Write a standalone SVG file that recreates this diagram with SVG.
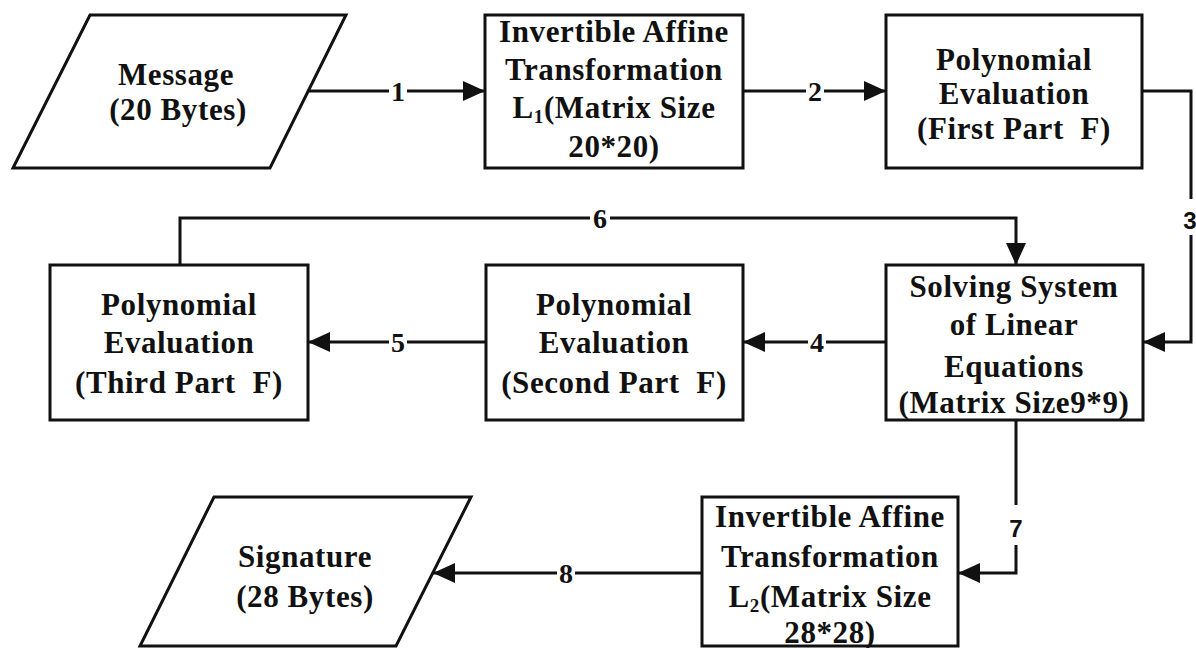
<svg xmlns="http://www.w3.org/2000/svg" width="1196" height="648" viewBox="0 0 1196 648">
  <defs>
    <marker id="arrow" markerUnits="userSpaceOnUse" markerWidth="22" markerHeight="20" refX="22" refY="10" orient="auto">
      <path d="M0,0 L22,10 L0,20 z" fill="#111"/>
    </marker>
    <style>
      .serif { font-family: "Times New Roman", Times, "Liberation Serif", Tinos, "Nimbus Roman", FreeSerif, "DejaVu Serif", serif; }
      .shape { fill: #fff; stroke: #111; stroke-width: 3; }
      .label { font-weight: 700; font-size: 31px; letter-spacing: 0.6px; fill: #111; text-anchor: middle; }
      .edge { fill: none; stroke: #111; stroke-width: 3; }
      .num { font-weight: 700; font-size: 28px; fill: #111; text-anchor: middle; }
      .num-sans { font-family: "Liberation Sans", Arial, sans-serif; font-weight: 700; font-size: 24px; fill: #111; text-anchor: middle; }
      .gap { fill: #fff; }
      .sub { font-size: 19px; }
    </style>
  </defs>
  <rect width="1196" height="648" fill="#fff"/>

  <!-- connectors -->
  <g id="connectors" class="serif">
    <path class="edge" d="M307,91 H485" marker-end="url(#arrow)"/>
    <path class="edge" d="M743,91 H886" marker-end="url(#arrow)"/>
    <path class="edge" d="M1142,91 H1191 V342 H1143" marker-end="url(#arrow)"/>
    <path class="edge" d="M886,342 H743" marker-end="url(#arrow)"/>
    <path class="edge" d="M486,342 H308" marker-end="url(#arrow)"/>
    <path class="edge" d="M180,265 V218 H1016 V265" marker-end="url(#arrow)"/>
    <path class="edge" d="M1016,420 V573 H958" marker-end="url(#arrow)"/>
    <path class="edge" d="M702,573 H433" marker-end="url(#arrow)"/>

    <rect class="gap" x="389" y="78" width="18" height="26"/>
    <text class="num" x="398" y="101">1</text>
    <rect class="gap" x="806" y="78" width="18" height="26"/>
    <text class="num" x="815" y="101">2</text>
    <rect class="gap" x="1181" y="199" width="15" height="36"/>
    <text class="num-sans" x="1190" y="229">3</text>
    <rect class="gap" x="808" y="329" width="18" height="26"/>
    <text class="num" x="817" y="352">4</text>
    <rect class="gap" x="389" y="329" width="18" height="26"/>
    <text class="num" x="398" y="352">5</text>
    <rect class="gap" x="590" y="205" width="20" height="26"/>
    <text class="num" x="600" y="228">6</text>
    <rect class="gap" x="1005" y="505" width="22" height="40"/>
    <text class="num-sans" x="1016" y="537">7</text>
    <rect class="gap" x="557" y="560" width="18" height="26"/>
    <text class="num" x="566" y="583">8</text>
  </g>

  <g class="serif">
    <!-- input message -->
    <g id="message">
      <polygon class="shape" points="90,15 346,15 270,168 13,168"/>
      <text class="label" x="176" y="85">Message</text>
      <text class="label" x="178" y="120">(20 Bytes)</text>
    </g>

    <!-- affine transformation L1 -->
    <g id="affine-l1">
      <rect class="shape" x="485" y="15" width="258" height="153"/>
      <text class="label" x="614" y="42">Invertible Affine</text>
      <text class="label" x="614" y="80">Transformation</text>
      <text class="label" x="614" y="118">L<tspan class="sub" dy="5">1</tspan><tspan dy="-5">(Matrix Size</tspan></text>
      <text class="label" x="614" y="157">20*20)</text>
    </g>

    <!-- central map, first part -->
    <g id="poly-first">
      <rect class="shape" x="886" y="15" width="256" height="153"/>
      <text class="label" x="1014" y="70">Polynomial</text>
      <text class="label" x="1014" y="104">Evaluation</text>
      <text class="label" x="1014" y="139" xml:space="preserve">(First Part  F)</text>
    </g>

    <!-- linear system solver -->
    <g id="solve-linear">
      <rect class="shape" x="886" y="265" width="257" height="155"/>
      <text class="label" x="1014" y="297">Solving System</text>
      <text class="label" x="1014" y="335">of Linear</text>
      <text class="label" x="1014" y="377">Equations</text>
      <text class="label" x="1014" y="413" letter-spacing="0">(Matrix Size9*9)</text>
    </g>

    <!-- central map, second part -->
    <g id="poly-second">
      <rect class="shape" x="486" y="265" width="257" height="155"/>
      <text class="label" x="614" y="315">Polynomial</text>
      <text class="label" x="614" y="353">Evaluation</text>
      <text class="label" x="614" y="393" xml:space="preserve" letter-spacing="0">(Second Part  F)</text>
    </g>

    <!-- central map, third part -->
    <g id="poly-third">
      <rect class="shape" x="50" y="265" width="258" height="155"/>
      <text class="label" x="179" y="315">Polynomial</text>
      <text class="label" x="179" y="353">Evaluation</text>
      <text class="label" x="179" y="393" xml:space="preserve">(Third Part  F)</text>
    </g>

    <!-- affine transformation L2 -->
    <g id="affine-l2">
      <rect class="shape" x="702" y="497" width="256" height="149"/>
      <text class="label" x="830" y="527">Invertible Affine</text>
      <text class="label" x="830" y="567">Transformation</text>
      <text class="label" x="830" y="607">L<tspan class="sub" dy="5">2</tspan><tspan dy="-5">(Matrix Size</tspan></text>
      <text class="label" x="830" y="643">28*28)</text>
    </g>

    <!-- output signature -->
    <g id="signature">
      <polygon class="shape" points="214,497 471,497 396,646 140,646"/>
      <text class="label" x="305" y="567">Signature</text>
      <text class="label" x="305" y="607">(28 Bytes)</text>
    </g>
  </g>
</svg>
